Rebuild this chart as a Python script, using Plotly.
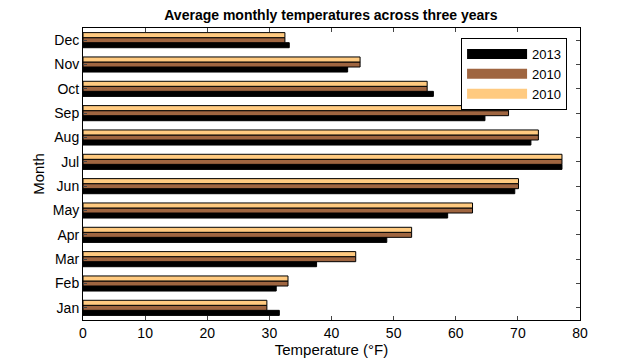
import plotly.graph_objects as go

months = ["Jan", "Feb", "Mar", "Apr", "May", "Jun", "Jul", "Aug", "Sep", "Oct", "Nov", "Dec"]
temps_2013 = [31.6, 31.1, 37.6, 48.9, 58.7, 69.5, 77.1, 72.1, 64.7, 56.4, 42.6, 33.2]
temps_2010a = [29.6, 33.0, 43.9, 52.9, 62.7, 70.1, 77.1, 73.3, 68.5, 55.4, 44.6, 32.5]
temps_2010b = [29.6, 33.0, 43.9, 52.9, 62.7, 70.1, 77.1, 73.3, 68.5, 55.4, 44.6, 32.5]
series_names = ["2013", "2010", "2010"]
colors = ["#000000", "#9F6540", "#FFCA80"]
x_ticks = [0, 10, 20, 30, 40, 50, 60, 70, 80]

fig = go.Figure()
for i, (name, vals, col) in enumerate(zip(series_names, [temps_2013, temps_2010a, temps_2010b], colors)):
    fig.add_trace(go.Bar(
        y=months, x=vals, name=name, orientation="h", legendgroup=f"g{i}",
        showlegend=False,
        marker=dict(color=col, line=dict(color="black", width=1)),
    ))
# legend entries drawn as wide swatches (MATLAB style)
for i, (name, col) in enumerate(zip(series_names, colors)):
    fig.add_trace(go.Scatter(
        x=[None], y=[None], mode="lines", name=name, legendgroup=f"g{i}",
        line=dict(color=col, width=12),
    ))

font = "Liberation Sans, Arial, Helvetica, sans-serif"
# page body has an 8px margin, so the figure is 632x352 and sits at (8, 8)
fig.update_layout(
    width=632, height=352,
    margin=dict(l=75, r=60, t=20, b=40, autoexpand=False),
    barmode="group", bargap=0.38, bargroupgap=0,
    plot_bgcolor="white", paper_bgcolor="white",
    font=dict(family=font, size=13, color="black"),
    title=dict(text="<b>Average monthly temperatures across three years</b>",
               x=0.511, xanchor="center", y=0.979, yanchor="middle",
               font=dict(size=14, family=font, color="black")),
    legend=dict(x=0.974, xanchor="right", y=0.966, yanchor="top",
                traceorder="normal", bordercolor="black", borderwidth=1,
                bgcolor="white", font=dict(size=13), itemwidth=60,
                tracegroupgap=0),
    xaxis=dict(range=[0, 80], tickvals=x_ticks, ticks="inside", ticklen=4,
               showline=True, linecolor="black", linewidth=1, mirror="allticks",
               showgrid=False, zeroline=False, automargin=False,
               tickfont=dict(size=14),
               title=dict(text="Temperature (°F)", standoff=3, font=dict(size=15))),
    yaxis=dict(range=[-0.5, 11.5], ticks="inside", ticklen=4,
               showline=True, linecolor="black", linewidth=1, mirror="allticks",
               showgrid=False, zeroline=False, automargin=False,
               tickfont=dict(size=14),
               title=dict(text="Month", standoff=4, font=dict(size=15))),
)
fig.write_html("out.html")
